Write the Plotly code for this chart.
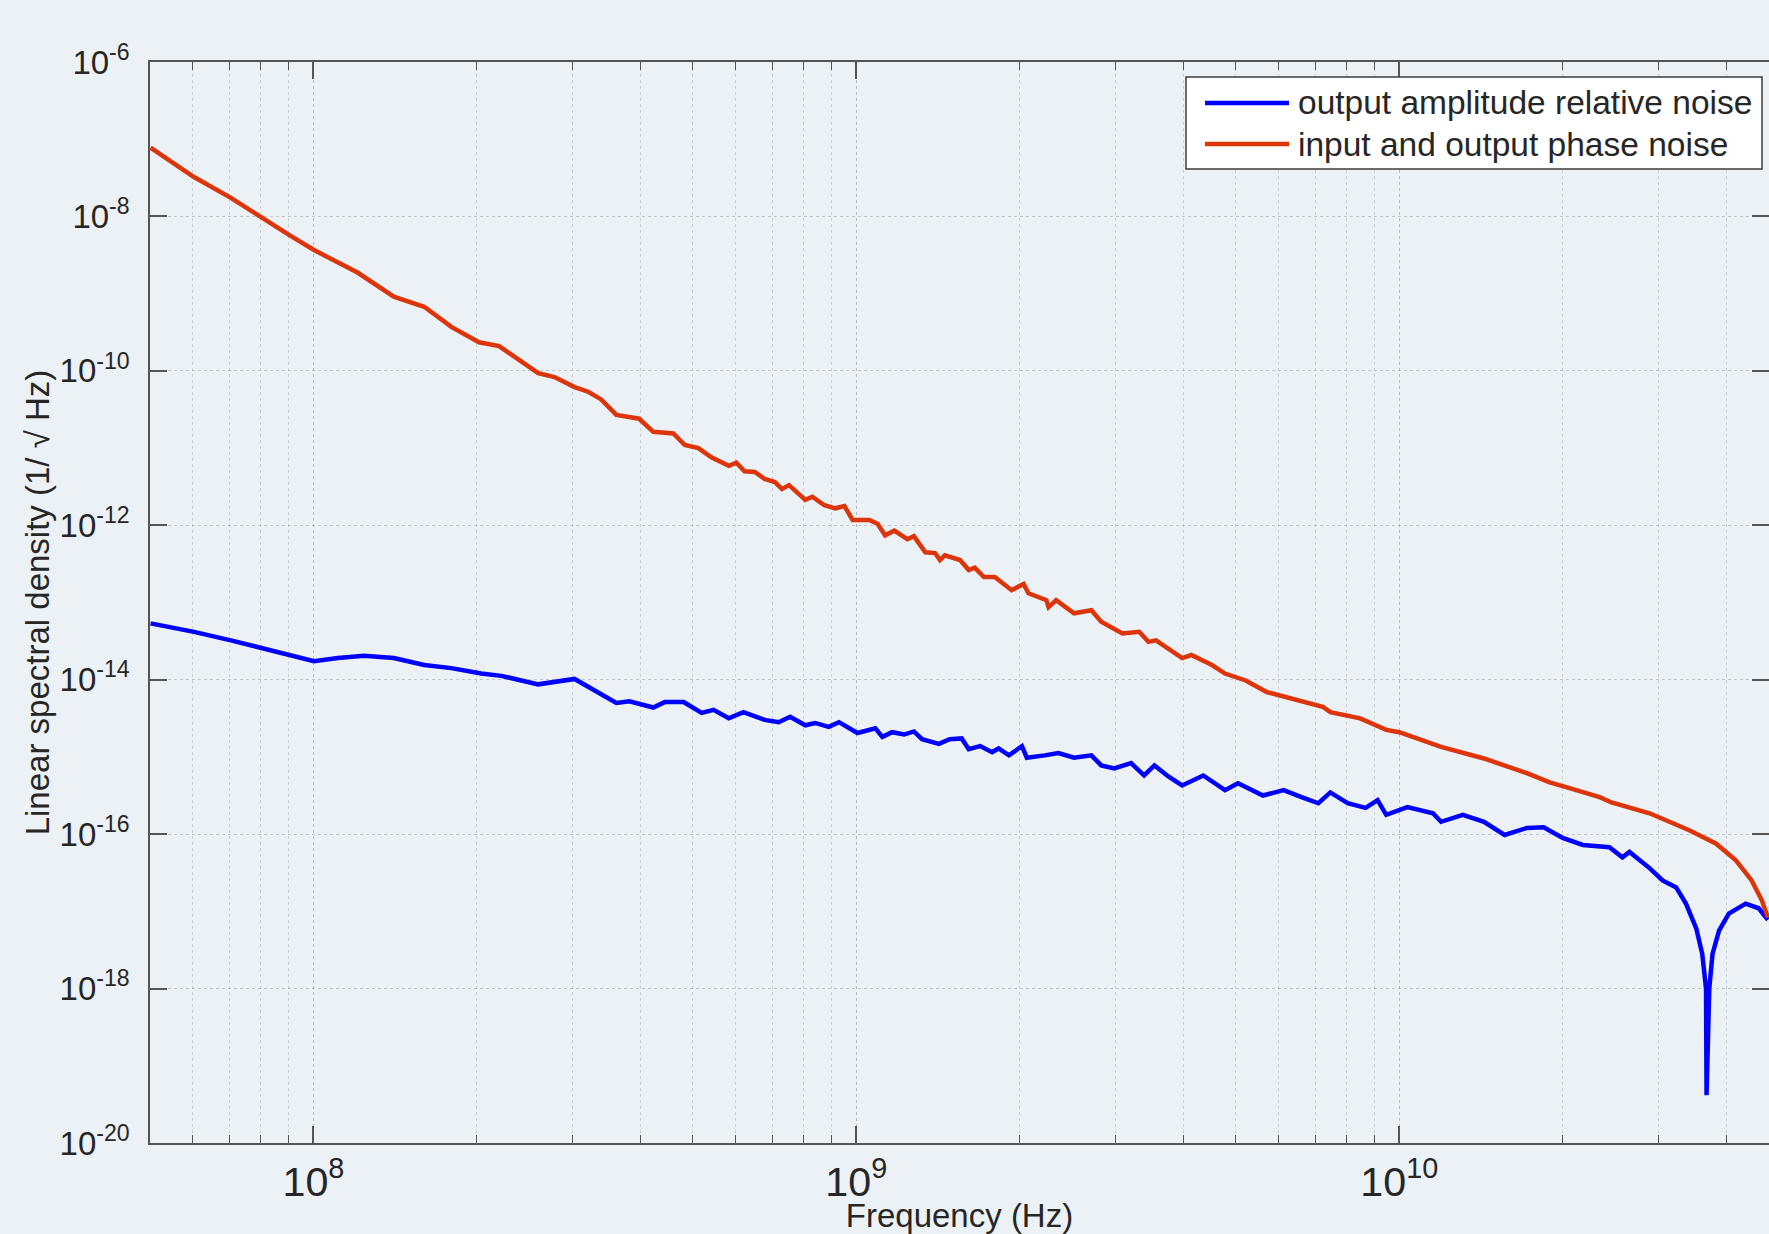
import plotly.graph_objects as go

# ---- data (log10 of frequency in Hz, log10 of density) ----
phase_freq_exp = [7.700, 7.780, 7.848, 7.903, 7.955, 8.001, 8.082, 8.148, 8.204, 8.254,
                  8.305, 8.342, 8.414, 8.444, 8.481, 8.506, 8.530, 8.558, 8.600, 8.626,
                  8.663, 8.684, 8.709, 8.733, 8.765, 8.779, 8.794, 8.813, 8.831, 8.850,
                  8.863, 8.876, 8.906, 8.919, 8.941, 8.961, 8.978, 8.993, 9.024, 9.039,
                  9.053, 9.070, 9.094, 9.106, 9.127, 9.145, 9.154, 9.163, 9.191, 9.207,
                  9.218, 9.235, 9.255, 9.286, 9.308, 9.317, 9.350, 9.354, 9.368, 9.401,
                  9.433, 9.451, 9.490, 9.521, 9.538, 9.552, 9.600, 9.617, 9.655, 9.679,
                  9.717, 9.756, 9.803, 9.859, 9.873, 9.928, 9.976, 10.000, 10.077, 10.156,
                  10.235, 10.277, 10.312, 10.369, 10.391, 10.461, 10.534, 10.583, 10.620, 10.649,
                  10.668, 10.679]
phase_psd_exp = [-7.11, -7.49, -7.76, -8.01, -8.24, -8.435, -8.73, -9.04, -9.17, -9.43,
                 -9.63, -9.68, -10.03, -10.08, -10.21, -10.27, -10.37, -10.57, -10.62, -10.79,
                 -10.81, -10.96, -11.00, -11.12, -11.23, -11.19, -11.30, -11.31, -11.40, -11.44,
                 -11.53, -11.48, -11.67, -11.63, -11.74, -11.78, -11.75, -11.93, -11.93, -11.98,
                 -12.13, -12.07, -12.18, -12.14, -12.35, -12.36, -12.45, -12.39, -12.45, -12.58,
                 -12.55, -12.67, -12.67, -12.84, -12.76, -12.88, -12.97, -13.06, -12.97, -13.14,
                 -13.10, -13.25, -13.40, -13.38, -13.51, -13.49, -13.72, -13.68, -13.81, -13.92,
                 -14.01, -14.16, -14.24, -14.35, -14.42, -14.50, -14.65, -14.68, -14.87, -15.02,
                 -15.21, -15.33, -15.40, -15.52, -15.59, -15.73, -15.95, -16.12, -16.34, -16.60,
                 -16.86, -17.08]

amp_freq_exp = [7.700, 7.780, 7.848, 7.903, 7.958, 8.001, 8.045, 8.093, 8.148, 8.204,
                8.254, 8.309, 8.346, 8.414, 8.481, 8.530, 8.558, 8.582, 8.626, 8.647,
                8.682, 8.715, 8.737, 8.765, 8.792, 8.831, 8.857, 8.878, 8.906, 8.924,
                8.949, 8.968, 9.002, 9.035, 9.048, 9.066, 9.088, 9.106, 9.121, 9.152,
                9.172, 9.194, 9.207, 9.228, 9.250, 9.262, 9.281, 9.305, 9.314, 9.347,
                9.372, 9.401, 9.433, 9.451, 9.475, 9.506, 9.530, 9.549, 9.576, 9.600,
                9.639, 9.679, 9.703, 9.749, 9.787, 9.820, 9.851, 9.873, 9.905, 9.938,
                9.960, 9.976, 10.015, 10.062, 10.077, 10.117, 10.156, 10.194, 10.235, 10.266,
                10.301, 10.338, 10.387, 10.411, 10.424, 10.461, 10.485, 10.510, 10.528, 10.547,
                10.558, 10.565, 10.566, 10.571, 10.577, 10.589, 10.607, 10.638, 10.662, 10.679]
amp_psd_exp = [-13.27, -13.38, -13.49, -13.59, -13.69, -13.76, -13.72, -13.69, -13.72, -13.81,
               -13.85, -13.92, -13.95, -14.06, -13.99, -14.18, -14.30, -14.28, -14.36, -14.29,
               -14.29, -14.43, -14.39, -14.50, -14.42, -14.52, -14.55, -14.48, -14.59, -14.56,
               -14.61, -14.55, -14.69, -14.63, -14.74, -14.68, -14.71, -14.67, -14.77, -14.83,
               -14.77, -14.76, -14.90, -14.86, -14.94, -14.89, -14.98, -14.86, -15.01, -14.98,
               -14.95, -15.01, -14.98, -15.11, -15.15, -15.08, -15.24, -15.11, -15.26, -15.37,
               -15.24, -15.43, -15.34, -15.50, -15.43, -15.52, -15.60, -15.46, -15.60, -15.66,
               -15.56, -15.75, -15.65, -15.73, -15.84, -15.75, -15.84, -16.01, -15.92, -15.91,
               -16.05, -16.14, -16.17, -16.30, -16.23, -16.44, -16.60, -16.69, -16.90, -17.22,
               -17.55, -18.00, -19.38, -18.00, -17.55, -17.25, -17.03, -16.90, -16.96, -17.11]

series_names = ["output amplitude relative noise", "input and output phase noise"]
y_tick_exps = [-20, -18, -16, -14, -12, -10, -8, -6]

BLUE = "rgb(0,0,255)"
RED = "rgb(221,52,10)"
BG = "rgb(236,241,246)"
TXT = "rgb(38,38,38)"
AX = "rgb(85,85,85)"
FONT = "Liberation Sans, Arial, sans-serif"

fig = go.Figure()
fig.add_trace(go.Scatter(
    x=[10 ** v for v in amp_freq_exp], y=[10 ** v for v in amp_psd_exp],
    mode="lines", line=dict(color=BLUE, width=4.5), name=series_names[0], showlegend=False))
fig.add_trace(go.Scatter(
    x=[10 ** v for v in phase_freq_exp], y=[10 ** v for v in phase_psd_exp],
    mode="lines", line=dict(color=RED, width=4.5), name=series_names[1], showlegend=False))

W, H = 1769, 1234
L, T, R, B = 150, 62, 0, 91
pw, ph = W - L - R, H - T - B

def px(xp):
    return (xp - L) / pw

def py(yp):
    return (H - B - yp) / ph

# legend drawn as box, sample lines and text
shapes = [
    dict(type="rect", xref="paper", yref="paper", x0=px(1186), x1=px(1762), y0=py(169), y1=py(77),
         line=dict(color="rgb(60,60,60)", width=1.5), fillcolor="white", layer="above"),
    dict(type="line", xref="paper", yref="paper", x0=px(1205), x1=px(1289), y0=py(103), y1=py(103),
         line=dict(color=BLUE, width=4.5), layer="above"),
    dict(type="line", xref="paper", yref="paper", x0=px(1205), x1=px(1289), y0=py(144), y1=py(144),
         line=dict(color=RED, width=4.5), layer="above"),
]
annotations = [
    dict(xref="paper", yref="paper", x=px(1296), y=py(103), text=series_names[0], showarrow=False,
         xanchor="left", yanchor="middle", font=dict(family=FONT, size=33.5, color=TXT)),
    dict(xref="paper", yref="paper", x=px(1296), y=py(144), text=series_names[1], showarrow=False,
         xanchor="left", yanchor="middle", font=dict(family=FONT, size=33.5, color=TXT)),
]

fig.update_layout(
    width=W, height=H,
    margin=dict(l=L, r=R, t=T, b=B, autoexpand=False),
    paper_bgcolor=BG, plot_bgcolor=BG,
    font=dict(family=FONT, size=32, color=TXT),
    shapes=shapes, annotations=annotations,
    xaxis=dict(
        type="log", range=[7.699, 10.681], dtick=1, exponentformat="power",
        showline=True, linecolor=AX, linewidth=1.5, mirror="allticks",
        ticks="inside", ticklen=17, tickwidth=1.5, tickcolor=AX,
        showgrid=True, gridcolor="rgba(120,125,130,0.45)", griddash="dot", gridwidth=1,
        minor=dict(dtick="D1", ticks="inside", ticklen=8, tickwidth=1.2, tickcolor=AX,
                   showgrid=True, gridcolor="rgba(140,145,150,0.35)", griddash="dot", gridwidth=1),
        tickfont=dict(family=FONT, size=33, color=TXT), ticklabelstandoff=3,
        title=dict(text="Frequency (Hz)", font=dict(family=FONT, size=33, color=TXT), standoff=7),
        zeroline=False, automargin=False,
    ),
    yaxis=dict(
        type="log", range=[-20, -6],
        tickmode="array", tickvals=[10.0 ** e for e in y_tick_exps],
        ticktext=["10<sup>%d</sup>" % e for e in y_tick_exps],
        showline=True, linecolor=AX, linewidth=1.5, mirror="allticks",
        ticks="inside", ticklen=17, tickwidth=1.5, tickcolor=AX,
        showgrid=True, gridcolor="rgba(130,135,140,0.4)", griddash="dot", gridwidth=1,
        tickfont=dict(family=FONT, size=33, color=TXT), ticklabelstandoff=12,
        title=dict(text="Linear spectral density (1/ \u221a Hz)", font=dict(family=FONT, size=33, color=TXT),
                   standoff=0),
        zeroline=False, automargin=False,
    ),
)

fig.write_html("out.html", config={"displayModeBar": False},
               post_script="document.body.style.margin='0';document.body.style.background='%s';" % BG)
